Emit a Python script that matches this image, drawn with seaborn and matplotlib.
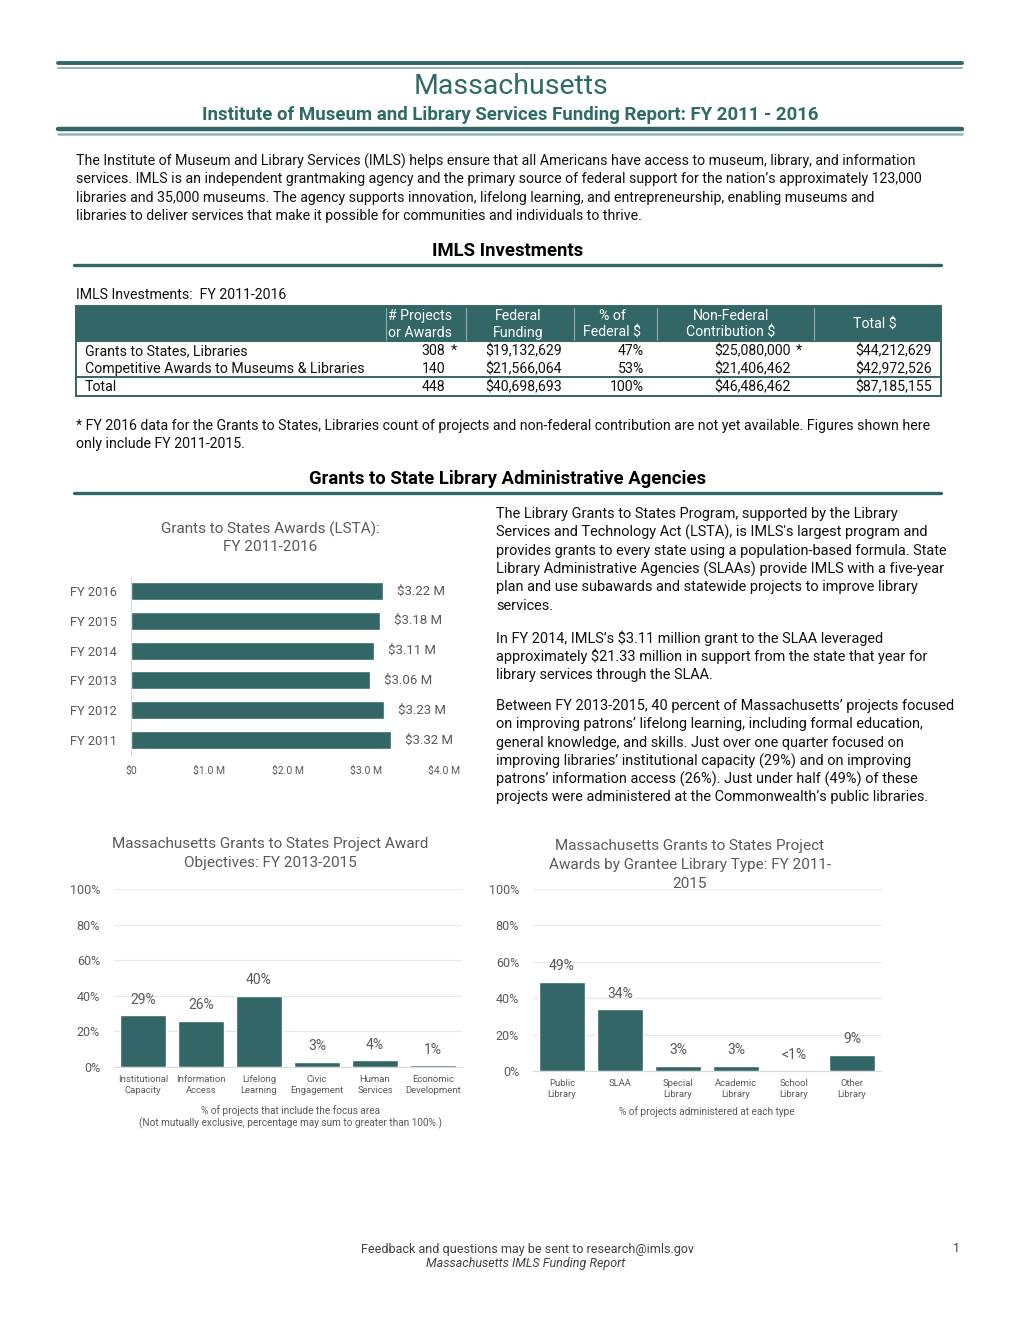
import matplotlib
matplotlib.use("Agg")
import matplotlib.pyplot as plt
import seaborn as sns
import pandas as pd
from matplotlib.patches import Rectangle

# ---- data ----
lsta_years = ['FY 2016', 'FY 2015', 'FY 2014', 'FY 2013', 'FY 2012', 'FY 2011']
lsta_awards = [3.22, 3.18, 3.11, 3.06, 3.23, 3.32]  # millions
lsta_labels = ['$3.22 M', '$3.18 M', '$3.11 M', '$3.06 M', '$3.23 M', '$3.32 M']
lsta_ticks = ['$0', '$1.0 M', '$2.0 M', '$3.0 M', '$4.0 M']

obj_cats = ['Institutional\nCapacity', 'Information\nAccess', 'Lifelong\nLearning',
            'Civic\nEngagement', 'Human\nServices', 'Economic\nDevelopment']
obj_pct = [29, 26, 40, 3, 4, 1]
obj_labels = ['29%', '26%', '40%', '3%', '4%', '1%']

lib_cats = ['Public\nLibrary', 'SLAA', 'Special\nLibrary', 'Academic\nLibrary',
            'School\nLibrary', 'Other\nLibrary']
lib_pct = [49, 34, 3, 3, 0.3, 9]
lib_labels = ['49%', '34%', '3%', '3%', '<1%', '9%']

pct_ticks = [0, 20, 40, 60, 80, 100]

tbl_rows = ['Grants to States, Libraries', 'Competitive Awards to Museums & Libraries', 'Total']
tbl_projects = ['308', '140', '448']
tbl_federal = ['$19,132,629', '$21,566,064', '$40,698,693']
tbl_pct = ['47%', '53%', '100%']
tbl_nonfed = ['$25,080,000', '$21,406,462', '$46,486,462']
tbl_total = ['$44,212,629', '$42,972,526', '$87,185,155']
tbl_star = [True, False, False]

# ---- style ----
sns.set_style('white')
BODY = ['Roboto', 'DejaVu Sans']
plt.rcParams['font.family'] = BODY
TEAL = '#336666'
LIGHT = '#93b5b1'
TTEAL = '#2f6b65'
GRAY = '#595959'
GRID = '#e6e6e6'
INK = '#111111'
FS = 10.2

fig = plt.figure(figsize=(10.2, 13.2), dpi=100)
pg = fig.add_axes([0, 0, 1, 1], zorder=0)
pg.set_xlim(0, 1020)
pg.set_ylim(1320, 0)
pg.axis('off')


def box(l, t, r, b):
    ax = fig.add_axes([l / 1020, 1 - b / 1320, (r - l) / 1020, (b - t) / 1320], zorder=2)
    ax.patch.set_alpha(0)
    return ax


# ---- header ----
pg.plot([58, 962], [63, 63], color=TEAL, lw=2.8)
pg.plot([58, 962], [67.5, 67.5], color=LIGHT, lw=1.4)
pg.plot([58, 962], [129, 129], color=TEAL, lw=3.2)
pg.plot([58, 962], [133.5, 133.5], color=LIGHT, lw=1.8)
pg.text(511, 87, 'Massachusetts', ha='center', va='center', fontsize=20.5, color=TTEAL)
pg.text(510, 115, 'Institute of Museum and Library Services Funding Report: FY 2011 - 2016',
        ha='center', va='center', fontsize=13.4, color=TTEAL, weight='bold')

intro = ["The Institute of Museum and Library Services (IMLS) helps ensure that all Americans have access to museum, library, and information",
         "services. IMLS is an independent grantmaking agency and the primary source of federal support for the nation\u2019s approximately 123,000",
         "libraries and 35,000 museums. The agency supports innovation, lifelong learning, and entrepreneurship, enabling museums and",
         "libraries to deliver services that make it possible for communities and individuals to thrive."]
for i, s in enumerate(intro):
    pg.text(76, 161 + i * 18.3, s, va='center', fontsize=FS, color=INK)

# ---- IMLS investments ----
pg.text(508, 251, 'IMLS Investments', ha='center', va='center', fontsize=13.3,
        weight='bold', color='black')
pg.plot([74, 941], [265, 265], color=TEAL, lw=2.4)
pg.text(76, 295, 'IMLS Investments:  FY 2011-2016', va='center', fontsize=FS, color=INK)

pg.add_patch(Rectangle((76, 306), 865, 36, facecolor=TEAL, edgecolor='none'))
for x in [386, 466, 574, 657, 814]:
    pg.plot([x, x], [308, 340], color='#8fb0ac', lw=0.8)
heads = [(420, '# Projects', 'or Awards'), (518, 'Federal', 'Funding'),
         (612, '% of', 'Federal $'), (731, 'Non-Federal', 'Contribution $')]
for x, a, b in heads:
    pg.text(x, 316, a, ha='center', va='center', fontsize=FS, color='white')
    pg.text(x, 333, b, ha='center', va='center', fontsize=FS, color='white')
pg.text(875, 324, 'Total $', ha='center', va='center', fontsize=FS, color='white')
pg.add_patch(Rectangle((76, 306), 865, 90, facecolor='none', edgecolor=TEAL, lw=1.4))
pg.plot([76, 941], [377, 377], color=TEAL, lw=1.4)

for i, name in enumerate(tbl_rows):
    y = [351, 369, 387][i]
    pg.text(85, y, name, va='center', fontsize=FS, color=INK)
    pg.text(445, y, tbl_projects[i], ha='right', va='center', fontsize=FS, color=INK)
    pg.text(562, y, tbl_federal[i], ha='right', va='center', fontsize=FS, color=INK)
    pg.text(644, y, tbl_pct[i], ha='right', va='center', fontsize=FS, color=INK)
    pg.text(791, y, tbl_nonfed[i], ha='right', va='center', fontsize=FS, color=INK)
    pg.text(932, y, tbl_total[i], ha='right', va='center', fontsize=FS, color=INK)
    if tbl_star[i]:
        pg.text(451, y, '*', va='center', fontsize=FS, color=INK)
        pg.text(796, y, '*', va='center', fontsize=FS, color=INK)

pg.text(76, 426, '* FY 2016 data for the Grants to States, Libraries count of projects and non-federal contribution are not yet available. Figures shown here',
        va='center', fontsize=FS, color=INK)
pg.text(76, 444, 'only include FY 2011-2015.', va='center', fontsize=FS, color=INK)

# ---- grants to SLAA ----
pg.text(508, 479, 'Grants to State Library Administrative Agencies', ha='center', va='center',
        fontsize=13.3, weight='bold', color='black')
pg.plot([74, 941], [493, 493], color=TEAL, lw=2.4)

paras = [(514, ["The Library Grants to States Program, supported by the Library",
                "Services and Technology Act (LSTA), is IMLS's largest program and",
                "provides grants to every state using a population-based formula. State",
                "Library Administrative Agencies (SLAAs) provide IMLS with a five-year",
                "plan and use subawards and statewide projects to improve library",
                "services."]),
         (638, ["In FY 2014, IMLS\u2019s $3.11 million grant to the SLAA leveraged",
                "approximately $21.33 million in support from the state that year for",
                "library services through the SLAA."]),
         (706, ["Between FY 2013-2015, 40 percent of Massachusetts\u2019 projects focused",
                "on improving patrons\u2019 lifelong learning, including formal education,",
                "general knowledge, and skills. Just over one quarter focused on",
                "improving libraries\u2019 institutional capacity (29%) and on improving",
                "patrons\u2019 information access (26%). Just under half (49%) of these",
                "projects were administered at the Commonwealth\u2019s public libraries."])]
for y0, lines in paras:
    for i, s in enumerate(lines):
        pg.text(496, y0 + i * 18.3, s, va='center', fontsize=10.45, color=INK)

# ---- LSTA horizontal bars ----
pg.text(270, 529, 'Grants to States Awards (LSTA):', ha='center', va='center', fontsize=11, color=GRAY)
pg.text(270, 547, 'FY 2011-2016', ha='center', va='center', fontsize=11, color=GRAY)
ax1 = box(131, 576, 444, 755)
df1 = pd.DataFrame({'year': lsta_years, 'award': lsta_awards})
sns.barplot(data=df1, x='award', y='year', orient='h', color=TEAL, width=0.6,
            saturation=1, ax=ax1)
ax1.bar_label(ax1.containers[0], labels=lsta_labels, padding=10, fontsize=9.5, color=GRAY)
ax1.set_xlim(0, 4)
ax1.set_ylim(5.5, -0.5)
ax1.set_xticks(range(5))
ax1.set_xticklabels(lsta_ticks, fontsize=7.5, color=GRAY)
ax1.tick_params(axis='y', labelsize=9.3, labelcolor=GRAY, length=0, pad=10)
ax1.tick_params(axis='x', length=0, pad=8)
ax1.set_xlabel('')
ax1.set_ylabel('')
for s in ['top', 'right', 'bottom']:
    ax1.spines[s].set_visible(False)
ax1.spines['left'].set_color('#d9d9d9')


def pct_chart(ax, cats, vals, labels):
    df = pd.DataFrame({'cat': cats, 'pct': vals})
    sns.barplot(data=df, x='cat', y='pct', color=TEAL, width=0.78, saturation=1, ax=ax)
    ax.bar_label(ax.containers[0], labels=labels, padding=6, fontsize=10, color=GRAY)
    ax.set_ylim(0, 100)
    ax.set_xlim(-0.5, 5.5)
    ax.set_yticks(pct_ticks)
    ax.set_yticklabels([f'{t}%' for t in pct_ticks], fontsize=9, color=GRAY)
    ax.tick_params(axis='x', labelsize=6.8, labelcolor=GRAY, length=0, pad=6)
    ax.tick_params(axis='y', length=0, pad=10)
    ax.grid(axis='y', color=GRID, lw=0.8)
    ax.set_axisbelow(True)
    ax.set_xlabel('')
    ax.set_ylabel('')
    for s in ['top', 'right', 'left']:
        ax.spines[s].set_visible(False)
    ax.spines['bottom'].set_color('#d9d9d9')


# ---- objectives ----
pg.text(270, 844, 'Massachusetts Grants to States Project Award', ha='center', va='center', fontsize=11, color=GRAY)
pg.text(270, 863, 'Objectives: FY 2013-2015', ha='center', va='center', fontsize=11, color=GRAY)
ax2 = box(114, 889, 462, 1067)
pct_chart(ax2, obj_cats, obj_pct, obj_labels)
pg.text(291, 1111, '% of projects that include the focus area', ha='center', va='center', fontsize=7.2, color=GRAY)
pg.text(291, 1123, '(Not mutually exclusive, percentage may sum to greater than 100%.)', ha='center', va='center', fontsize=7.2, color=GRAY)

# ---- library type ----
for i, s in enumerate(['Massachusetts Grants to States Project',
                       'Awards by Grantee Library Type: FY 2011-', '2015']):
    pg.text(690, 846 + i * 19, s, ha='center', va='center', fontsize=11, color=GRAY)
ax3 = box(533, 889, 881, 1071)
pct_chart(ax3, lib_cats, lib_pct, lib_labels)
pg.text(707, 1112, '% of projects administered at each type', ha='center', va='center', fontsize=7.2, color=GRAY)

# ---- footer ----
pg.text(527, 1249, 'Feedback and questions may be sent to research@imls.gov', ha='center', va='center', fontsize=9, color='#404040')
pg.text(526, 1264, 'Massachusetts IMLS Funding Report', ha='center', va='center', fontsize=9, style='italic', color='#404040')
pg.text(957, 1249, '1', ha='center', va='center', fontsize=9, color='#404040')

fig.savefig('out.png', dpi=100, facecolor='white')
